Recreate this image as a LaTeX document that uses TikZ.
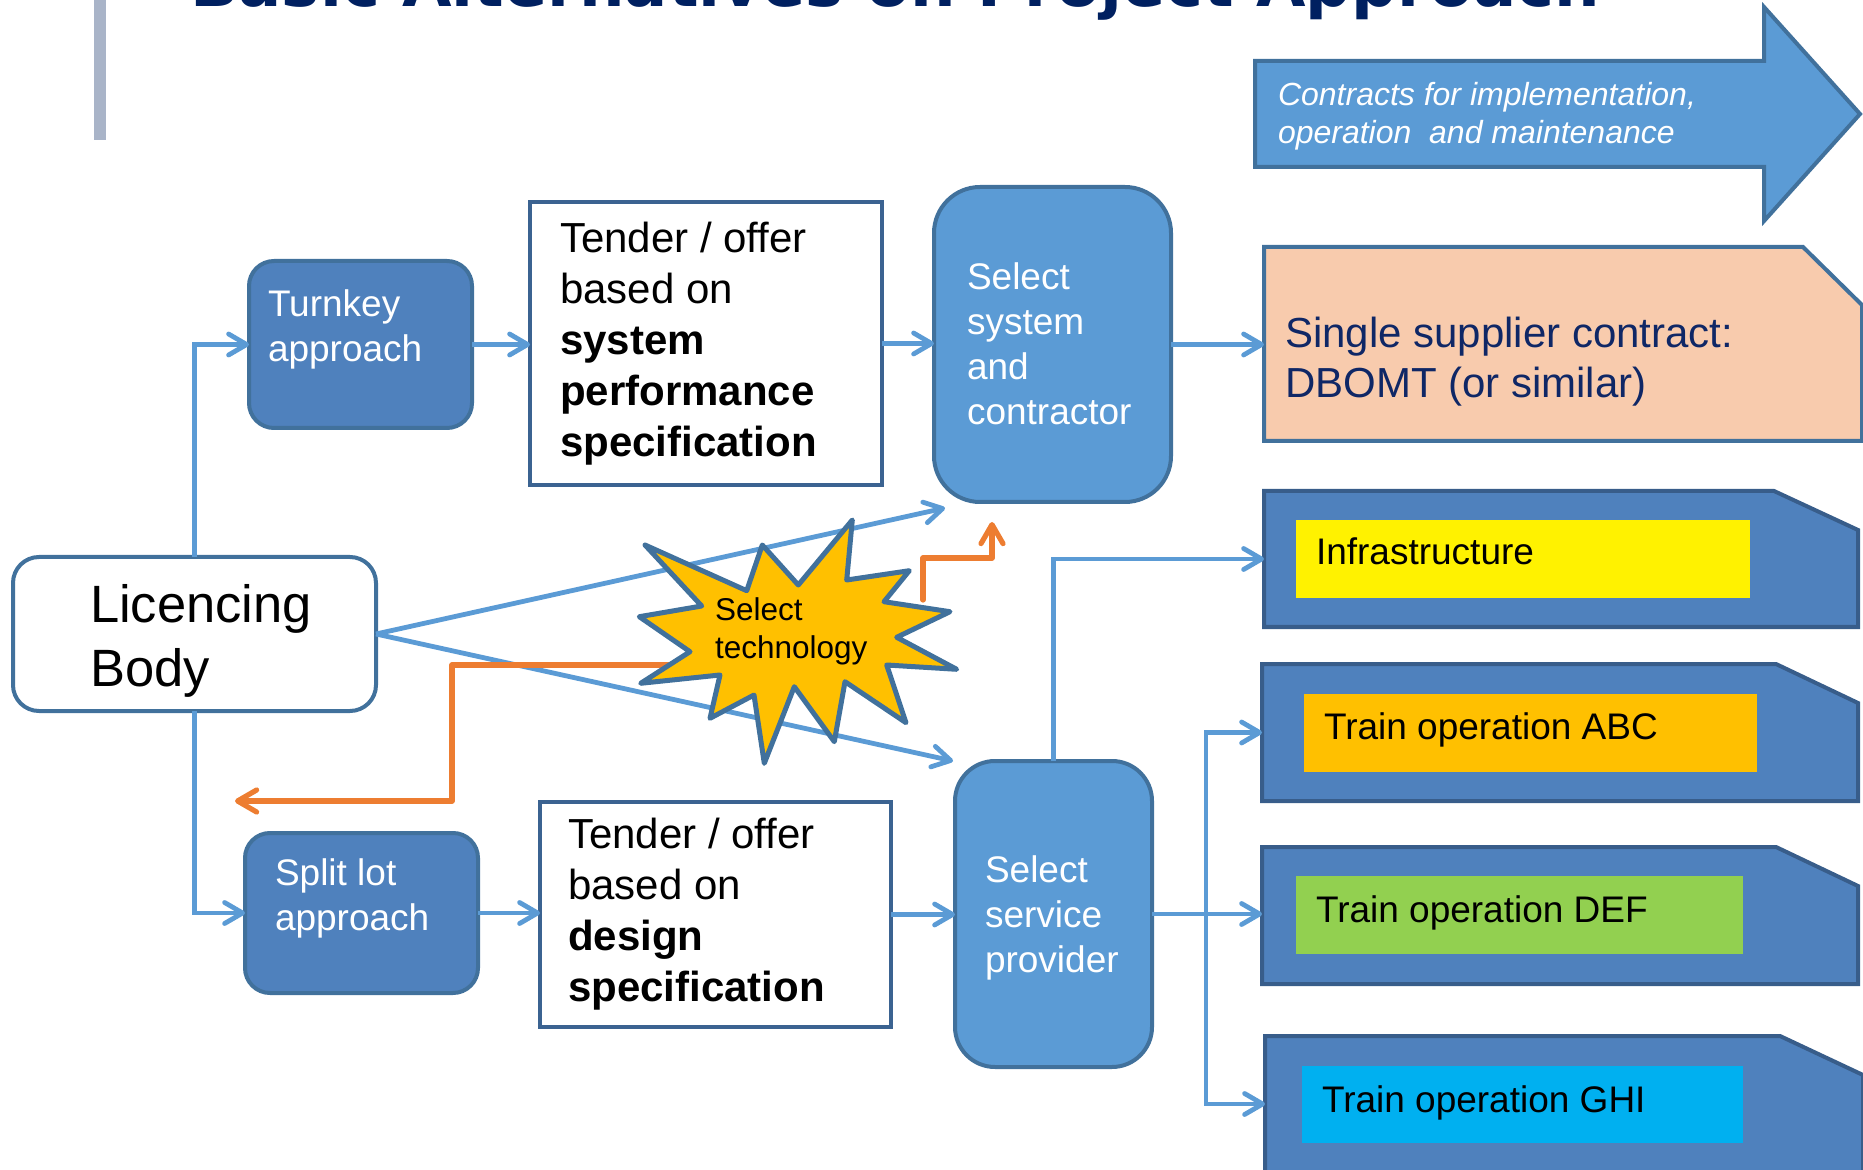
\documentclass[tikz,border=0pt]{standalone}
\usepackage{fontspec}
\setmainfont{Liberation Sans}
\newfontfamily\headfont{DejaVu Sans}
\usetikzlibrary{arrows.meta}

\definecolor{lineblue}{HTML}{5B9BD5}
\definecolor{boxblue}{HTML}{4F81BD}
\definecolor{midblue}{HTML}{5B9BD5}
\definecolor{edgeblue}{HTML}{41719C}
\definecolor{tenderedge}{HTML}{3B6391}
\definecolor{darkedge}{HTML}{385D8A}
\definecolor{peach}{HTML}{F8CBAD}
\definecolor{navy}{HTML}{002060}
\definecolor{supplytext}{HTML}{0F2766}
\definecolor{orangeline}{HTML}{ED7D31}
\definecolor{amber}{HTML}{FFC000}
\definecolor{lime}{HTML}{92D050}
\definecolor{sky}{HTML}{00B0F0}
\definecolor{barblue}{HTML}{A9B4C8}

% left-aligned lines whose baseline is that of the first line
\newcommand{\stacklines}[1]{\vtop{\halign{##\hfil\cr#1\crcr}}}
% rectangle with its upper right corner cut off, drawn round a named node
\newcommand{\snipshape}[4]{%
  \path[#4] (#1.south west) -- (#1.north west) -- ([xshift=-#2]#1.north east)
    -- ([yshift=-#3]#1.north east) -- (#1.south east) -- cycle;}

\begin{document}
\begin{tikzpicture}[x=0.5pt, y=-0.5pt,
  box/.style={inner sep=0pt, outer sep=0pt},
  roundbox/.style={box, draw=edgeblue, line width=2pt, rounded corners=#1},
  tenderbox/.style={box, draw=tenderedge, line width=2pt, fill=white},
  container/.style={draw=darkedge, line width=2pt, fill=boxblue},
  txt/.style={inner sep=0pt, outer sep=0pt, anchor=base west},
  mid/.style={font=\fontsize{18.5}{22.5}\selectfont},
  big/.style={font=\fontsize{21}{25.5}\selectfont},
  conn/.style={draw=lineblue, line width=2.4pt,
    -{Straight Barb[length=9pt,width=10.5pt,round]}},
  warn/.style={draw=orangeline, line width=2.6pt, line join=round, line cap=round,
    -{Straight Barb[length=9.5pt,width=11pt,round]}}]

\useasboundingbox (0,0) rectangle (1863,1170);

% heading strip
\fill[barblue] (94,0) rectangle (106,140);
\node[txt, font=\headfont\bfseries\fontsize{32}{38}\selectfont, text=navy] (title)
  at (190,7) {Basic Alternatives on Project Approach};

% big arrow
\path[draw=edgeblue, line width=2pt, fill=midblue]
  (1255,61) -- (1764,61) -- (1764,7) -- (1860,114) -- (1764,221) -- (1764,167) -- (1255,167) -- cycle;
\node[txt, font=\fontsize{16}{19}\selectfont\itshape, text=white] (contracts-text)
  at (1278,106) {\stacklines{Contracts for implementation,\cr operation\ \ and maintenance}};

% boxes
\node[roundbox=12.5pt, fill=boxblue, minimum width=111.5pt, minimum height=83.5pt] (turnkey) at (360.5,344.5) {};
\node[tenderbox, minimum width=176pt, minimum height=141.5pt] (tender1) at (706,343.5) {};
\node[roundbox=23pt, fill=midblue, minimum width=118.5pt, minimum height=157.5pt] (sys) at (1052.5,344.5) {};
\node[box, minimum width=299pt, minimum height=97pt] (single) at (1563,344) {};
\snipshape{single}{29.5pt}{29pt}{draw=edgeblue, line width=2pt, fill=peach}

\node[roundbox=13pt, fill=white, minimum width=181.5pt, minimum height=77pt] (lic) at (194.5,634) {};
\node[roundbox=12.5pt, fill=boxblue, minimum width=116.5pt, minimum height=80pt] (split) at (361.5,913) {};
\node[tenderbox, minimum width=175.5pt, minimum height=112.5pt] (tender2) at (715.5,914.5) {};
\node[roundbox=20pt, fill=midblue, minimum width=98.5pt, minimum height=153pt] (sp) at (1053.5,914) {};

% contract lots
\node[box, minimum width=297pt, minimum height=68pt] (infra) at (1561,559) {};
\node[box, minimum width=298pt, minimum height=68.5pt] (abc) at (1560,732.5) {};
\node[box, minimum width=298pt, minimum height=68.5pt] (def) at (1560,915.5) {};
\node[box, minimum width=299pt, minimum height=68pt] (ghi) at (1564,1104) {};
\snipshape{infra}{42pt}{19.5pt}{container}
\snipshape{abc}{41pt}{19.5pt}{container}
\snipshape{def}{41pt}{19.5pt}{container}
\snipshape{ghi}{41.5pt}{19.5pt}{container}

\node[box, fill=yellow, minimum width=227pt, minimum height=39pt] (infra-tag) at (1523,559) {};
\node[box, fill=amber, minimum width=226.5pt, minimum height=39pt] (abc-tag) at (1530.5,733) {};
\node[box, fill=lime, minimum width=223.5pt, minimum height=39pt] (def-tag) at (1519.5,915) {};
\node[box, fill=sky, minimum width=220.5pt, minimum height=38.5pt] (ghi-tag) at (1522.5,1104.5) {};

% labels
\node[txt, mid, text=white] (turnkey-text) at (268,317) {\stacklines{Turnkey\cr approach}};
\node[txt, big] (tender1-text) at (560,253)
  {\stacklines{Tender / offer\cr based on\cr \textbf{system}\cr \textbf{performance}\cr \textbf{specification}}};
\node[txt, mid, text=white] (sys-text) at (967,290) {\stacklines{Select\cr system\cr and\cr contractor}};
\node[txt, font=\fontsize{21}{25}\selectfont, text=supplytext] (single-text) at (1285,348)
  {\stacklines{Single supplier contract:\cr DBOMT (or similar)}};
\node[txt, font=\fontsize{26.25}{32}\selectfont] (lic-text) at (90,623) {\stacklines{Licencing\cr Body}};
\node[txt, mid, text=white] (split-text) at (275,885) {\stacklines{Split lot\cr approach}};
\node[txt, big] (tender2-text) at (568,848)
  {\stacklines{Tender / offer\cr based on\cr \textbf{design}\cr \textbf{specification}}};
\node[txt, mid, text=white] (sp-text) at (985,882) {\stacklines{Select\cr service\cr provider}};
\node[txt, mid] (infra-text) at (1316,565) {Infrastructure};
\node[txt, mid] (abc-text) at (1324,739) {Train operation ABC};
\node[txt, mid] (def-text) at (1316,922) {Train operation DEF};
\node[txt, mid] (ghi-text) at (1322,1112) {Train operation GHI};

% flow connectors
\draw[conn] (lic.north) |- (turnkey.west);
\draw[conn] (turnkey.east) -- (turnkey.east -| tender1.west);
\draw[conn] (tender1.east) -- (tender1.east -| sys.west);
\draw[conn] (sys.east) -- (sys.east -| single.west);
\draw[conn] (lic.south) |- (split.west);
\draw[conn] (split.east) -- (split.east -| tender2.west);
\draw[conn] (tender2.east) -- (tender2.east -| sp.west);
\draw[conn] (sp.east) -- (sp.east -| def.west);
\coordinate (bus) at (1206,914);
\draw[conn] (bus) |- (abc.west);
\draw[conn] (bus) |- (ghi.west);
\draw[conn] (sp.north) |- (infra.west);

\coordinate (sys-in) at (945,508);
\coordinate (sp-in) at (953,761);
\draw[conn] (lic.east) -- (sys-in);
\draw[conn] (lic.east) -- (sp-in);

% technology feedback
\coordinate (tech-west) at (700,665);
\coordinate (tech-east) at (923,600);
\coordinate (split-hint) at (235,801);
\coordinate (sys-hint) at (992,522);
\draw[warn] (tech-west) -- (452,665) -- (452,801) -- (split-hint);
\draw[warn] (tech-east) -- (923,558) -- (992,558) -- (sys-hint);

% explosion
\path[draw=edgeblue, line width=2.5pt, line join=round, fill=amber]
  (645,545) -- (746.7,590.7) -- (762.3,545) -- (798.3,585) -- (852.3,520) -- (846.7,580)
  -- (909.3,570.7) -- (884,601.7) -- (950,611.7) -- (896.7,637.3) -- (956.7,669.3)
  -- (886.7,665) -- (906,722.7) -- (845,681.7) -- (834.3,741.7) -- (794.3,686.7)
  -- (764.3,763.3) -- (754,695) -- (710,718.3) -- (720,675) -- (640.7,683.3)
  -- (690,651.7) -- (639.3,616.7) -- (701.7,606) -- cycle;
\node[txt, font=\fontsize{15.75}{19.5}\selectfont] (tech-text) at (715,620) {\stacklines{Select\cr technology}};

\end{tikzpicture}
\end{document}
